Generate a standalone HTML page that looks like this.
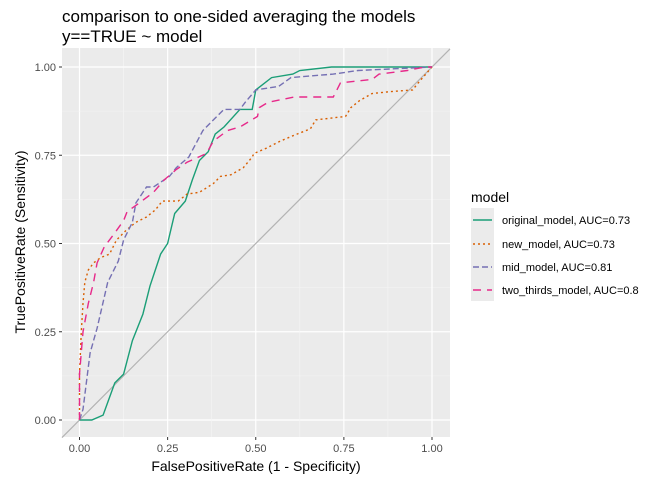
<!DOCTYPE html>
<html><head><meta charset="utf-8"><style>
body{margin:0;background:#fff;}
svg{display:block;font-family:"Liberation Sans",sans-serif;}
</style></head><body>
<svg id="chart" width="672" height="480" viewBox="0 0 672 480">
<text x="62" y="22" font-size="17" fill="#000">comparison to one-sided averaging the models</text>
<text x="62" y="42" font-size="17" fill="#000">y==TRUE ~ model</text>
<rect x="62" y="48" width="388" height="389" fill="#ebebeb"/>
<g id="grid"></g>
<g id="series"></g>
<g id="axes"></g>
<text x="256" y="471" font-size="14" text-anchor="middle">FalsePositiveRate (1 - Specificity)</text>
<text transform="translate(25,242) rotate(-90)" font-size="14" text-anchor="middle">TruePositiveRate (Sensitivity)</text>
<g>
<text x="471" y="202" font-size="14">model</text>
<rect x="471" y="208" width="23" height="93" fill="#ebebeb"/>
<g id="legend"></g>
</g>
</svg>
<script>
const ticks=[0,0.25,0.5,0.75,1];
const tickLabels=["0.00","0.25","0.50","0.75","1.00"];
const modelNames=["original_model, AUC=0.73","new_model, AUC=0.73","mid_model, AUC=0.81","two_thirds_model, AUC=0.8"];
const origX=[0,0.035,0.067,0.067,0.10,0.125,0.15,0.18,0.20,0.23,0.25,0.27,0.30,0.32,0.34,0.365,0.385,0.41,0.455,0.49,0.50,0.545,0.605,0.625,0.715,1];
const origY=[0,0,0.014,0.014,0.105,0.13,0.225,0.30,0.38,0.47,0.50,0.585,0.62,0.68,0.735,0.76,0.81,0.83,0.88,0.88,0.935,0.97,0.98,0.99,1,1];
const newX=[0,0,0.005,0.01,0.015,0.025,0.04,0.06,0.085,0.105,0.135,0.16,0.19,0.215,0.235,0.28,0.305,0.34,0.38,0.40,0.43,0.465,0.49,0.495,0.53,0.57,0.605,0.655,0.67,0.755,0.77,0.795,0.83,0.88,0.945,0.965,1];
const newY=[0,0.13,0.25,0.33,0.39,0.425,0.445,0.46,0.47,0.51,0.54,0.56,0.575,0.595,0.62,0.62,0.64,0.645,0.67,0.69,0.695,0.715,0.745,0.755,0.77,0.79,0.805,0.825,0.85,0.86,0.885,0.905,0.925,0.93,0.935,0.96,1];
const midX=[0,0.01,0.03,0.05,0.08,0.11,0.125,0.15,0.16,0.19,0.21,0.255,0.275,0.31,0.35,0.38,0.41,0.455,0.47,0.50,0.565,0.60,0.72,0.79,1];
const midY=[0,0.03,0.19,0.26,0.39,0.45,0.51,0.56,0.615,0.66,0.66,0.69,0.715,0.745,0.82,0.85,0.88,0.88,0.90,0.935,0.945,0.97,0.98,0.99,1];
const twoX=[0,0,0.01,0.025,0.04,0.05,0.07,0.10,0.125,0.135,0.17,0.21,0.24,0.275,0.305,0.36,0.38,0.42,0.455,0.505,0.51,0.535,0.61,0.72,0.74,0.83,0.85,0.93,0.98,1];
const twoY=[0,0.13,0.25,0.33,0.39,0.445,0.49,0.53,0.565,0.59,0.615,0.645,0.68,0.71,0.73,0.755,0.79,0.82,0.83,0.86,0.885,0.90,0.915,0.915,0.955,0.965,0.98,0.99,1,1];

const NS="http://www.w3.org/2000/svg";
const xs=v=>79.5+v*352.5, ys=v=>420-v*353;
function mk(tag,attrs,parent){const e=document.createElementNS(NS,tag);for(const k in attrs)e.setAttribute(k,attrs[k]);parent.appendChild(e);return e;}
const grid=document.getElementById('grid'),axes=document.getElementById('axes'),ser=document.getElementById('series'),leg=document.getElementById('legend');
for(let i=0;i<ticks.length;i++){
  if(i<ticks.length-1){const m=(ticks[i]+ticks[i+1])/2;
    const a=mk('line',{x1:xs(m),x2:xs(m),y1:48,y2:437,stroke:'#f5f5f5','stroke-width':0.6},grid);
    
    const b=mk('line',{x1:62,x2:450,y1:ys(m),y2:ys(m),stroke:'#f5f5f5','stroke-width':0.6},grid);
    }
  const gx=mk('line',{x1:xs(ticks[i]),x2:xs(ticks[i]),y1:48,y2:437,stroke:'#fff','stroke-width':1.2},grid);
  
  const gy=mk('line',{x1:62,x2:450,y1:ys(ticks[i]),y2:ys(ticks[i]),stroke:'#fff','stroke-width':1.2},grid);
  
  const tx=mk('line',{x1:xs(ticks[i]),x2:xs(ticks[i]),y1:437,y2:440,stroke:'#333'},axes);
  
  const lx=mk('text',{x:xs(ticks[i]),y:452,'font-size':11,fill:'#4d4d4d','text-anchor':'middle'},axes);lx.textContent=tickLabels[i];
  
  const ty=mk('line',{x1:59,x2:62,y1:ys(ticks[i]),y2:ys(ticks[i]),stroke:'#333'},axes);
  
  const ly=mk('text',{x:56,y:ys(ticks[i])+4,'font-size':11,fill:'#4d4d4d','text-anchor':'end'},axes);ly.textContent=tickLabels[i];
  
}
const diag=mk('line',{x1:62,y1:ys((62-79.5)/352.5),x2:450,y2:ys((450-79.5)/352.5),stroke:'#b3b3b3','stroke-width':1.2},ser);

const series=[
 {x:origX,y:origY,c:'#1b9e77',d:'',n:'original-model-curve'},
 {x:newX,y:newY,c:'#d95f02',d:'2,3',n:'new-model-curve'},
 {x:midX,y:midY,c:'#7570b3',d:'6,3',n:'mid-model-curve'},
 {x:twoX,y:twoY,c:'#e7298a',d:'8,6',n:'two-thirds-model-curve'}];
series.forEach((s,i)=>{
  const pts=s.x.map((v,j)=>xs(v).toFixed(1)+','+ys(s.y[j]).toFixed(1)).join(' ');
  const p=mk('polyline',{points:pts,fill:'none',stroke:s.c,'stroke-width':1.4,'stroke-dasharray':s.d},ser);
  
  const ly=[220,244,267,290][i];
  const k=mk('line',{x1:473,x2:492,y1:ly,y2:ly,stroke:s.c,'stroke-width':1.4,'stroke-dasharray':s.d},leg);
  
  const t=mk('text',{x:502,y:ly+4,'font-size':11,fill:'#000'},leg);t.textContent=modelNames[i];
  
});
</script>
</body></html>
